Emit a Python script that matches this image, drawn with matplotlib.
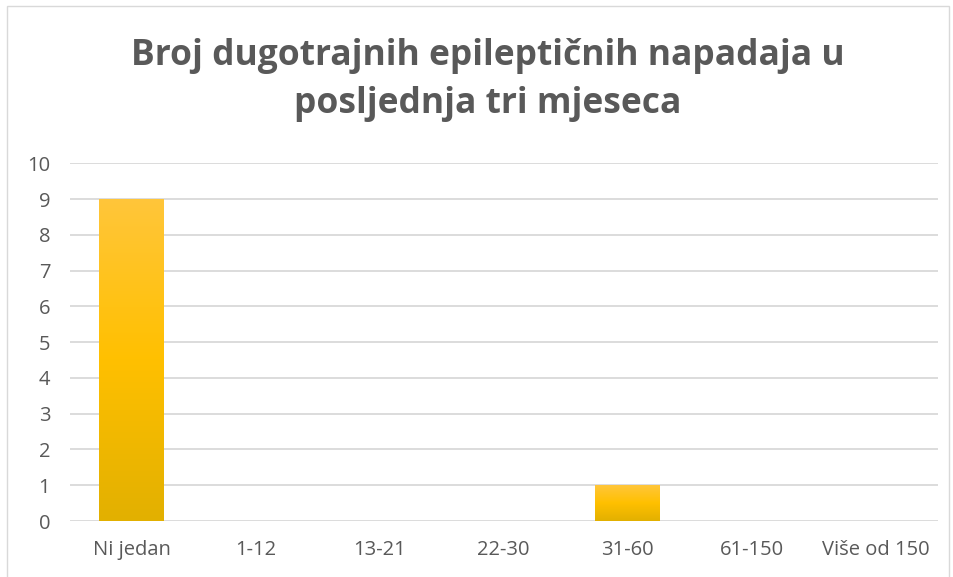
import numpy as np
import matplotlib.pyplot as plt
from matplotlib.colors import LinearSegmentedColormap
from matplotlib.patches import Rectangle

categories = ["Ni jedan", "1-12", "13-21", "22-30", "31-60", "61-150", "Više od 150"]
counts = [9, 0, 0, 0, 1, 0, 0]
yticks = list(range(0, 11))
title_lines = ["Broj dugotrajnih epileptičnih napadaja u", "posljednja tri mjeseca"]

plt.rcParams['font.family'] = ['Open Sans', 'DejaVu Sans']
grey = "#595959"

fig = plt.figure(figsize=(9.54, 5.77), dpi=100)
ax = fig.add_axes([0.073, 0.097, 0.91, 0.62])

x = np.arange(len(categories))
bars = ax.bar(x, counts, width=0.52, color="#FFC000", zorder=2)

# vertical gold gradient inside each bar
grad = LinearSegmentedColormap.from_list("gold", ["#E2B000", "#FFC000", "#FFC63A"])
for b in bars:
    if b.get_height() <= 0:
        continue
    im = ax.imshow(np.linspace(0, 1, 256).reshape(-1, 1), cmap=grad, aspect="auto",
                   origin="lower", extent=[b.get_x(), b.get_x() + b.get_width(), 0, b.get_height()],
                   zorder=3)
    im.set_clip_path(b)

ax.set_xlim(-0.5, len(categories) - 0.5)
ax.set_ylim(0, 10)
ax.set_yticks(yticks)
ax.set_xticks(x)
ax.set_xticklabels(categories)
ax.grid(axis="y", color="#D9D9D9", linewidth=1.3, zorder=0)
ax.set_axisbelow(True)
for s in ax.spines.values():
    s.set_visible(False)
ax.tick_params(length=0, labelsize=14.5, colors=grey)
ax.tick_params(axis="y", pad=14)
ax.tick_params(axis="x", pad=14)

fig.text(0.511, 0.887, title_lines[0], ha="center", va="baseline", fontsize=25.5,
         fontweight="bold", color=grey)
fig.text(0.511, 0.804, title_lines[1], ha="center", va="baseline", fontsize=25.5,
         fontweight="bold", color=grey)

fig.patches.append(Rectangle((0.007, -0.01), 0.988, 1.0, transform=fig.transFigure,
                             fill=False, edgecolor="#D9D9D9", linewidth=1))

fig.savefig("out.png", dpi=100)
